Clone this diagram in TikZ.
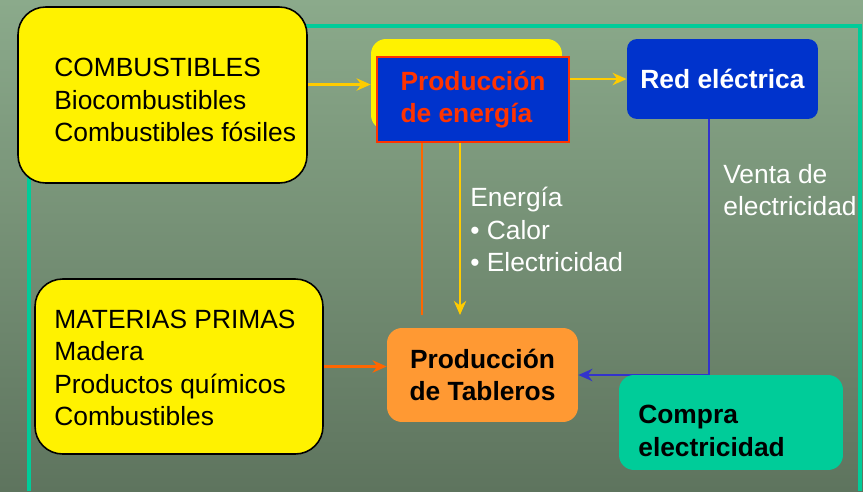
\documentclass[tikz,border=0pt]{standalone}
\usepackage{fontspec}
\setmainfont{Liberation Sans}
\usepackage{tikz}
\usetikzlibrary{positioning,shapes,arrows.meta}

\definecolor{bgtop}{RGB}{139,170,139}
\definecolor{bgbot}{RGB}{94,116,94}
\definecolor{framegreen}{RGB}{0,204,153}
\definecolor{boxgreen}{RGB}{0,204,153}
\definecolor{boxblue}{RGB}{0,51,204}
\definecolor{boxorange}{RGB}{255,153,51}
\definecolor{lineorange}{RGB}{255,102,0}
\definecolor{lineyellow}{RGB}{255,204,0}
\definecolor{lineblue}{RGB}{51,51,204}
\definecolor{redtext}{RGB}{255,51,0}

\begin{document}
\begin{tikzpicture}[x=0.02cm, y=-0.02cm, >={Stealth[length=8pt,width=7pt]},
  every node/.style={font=\fontsize{15}{18.5}\selectfont},
  bold/.style={font=\fontsize{15}{18.5}\selectfont\bfseries},
  srcbox/.style={rectangle, rounded corners=0.55cm, draw=black, line width=0.9pt, fill=yellow},
  plaintext/.style={align=left, inner sep=0pt},
  fuelline/.style={lineyellow, line width=1.6pt},
  matline/.style={lineorange, line width=1.6pt},
  gridline/.style={lineblue, line width=1.6pt}]
% Background and frame
\path[use as bounding box] (0,0) rectangle (863,491);
\shade[top color=bgtop, bottom color=bgbot] (0,0) rectangle (863,491);
\draw[framegreen, line width=1.9pt] (29,491) -- (29,26) -- (860,26) -- (860,491);

% Boxes
\node[srcbox, minimum width=5.78cm, minimum height=3.52cm] (comb) at (162.5,95) {};
\node[plaintext, anchor=west] (combtext) at (54,100) {COMBUSTIBLES\\Biocombustibles\\Combustibles fósiles};

\node[srcbox, minimum width=5.76cm, minimum height=3.5cm] (mat) at (179,366.5) {};
\node[plaintext, anchor=west] (mattext) at (54,368) {MATERIAS PRIMAS\\Madera\\Productos químicos\\Combustibles};

\node[rectangle, rounded corners=0.3cm, fill=yellow, minimum width=3.82cm, minimum height=1.82cm] (enback) at (466.5,84.5) {};
\node[rectangle, draw=redtext, line width=1.3pt, fill=boxblue, text=redtext, bold, align=left, minimum width=3.84cm, minimum height=1.7cm] (en) at (473,99.5) {Producción\\de energía};

\node[rectangle, rounded corners=0.2cm, fill=boxblue, text=white, bold, minimum width=3.82cm, minimum height=1.6cm] (red) at (722.5,79) {Red eléctrica};

\node[rectangle, rounded corners=0.3cm, fill=boxorange, bold, align=center, minimum width=3.82cm, minimum height=1.88cm] (tab) at (482.5,375) {Producción\\de Tableros};

\coordinate (oend) at (422,315);
\coordinate (yend) at (460,315);
\coordinate (venta) at (709,375);

% Arrows
\draw[fuelline, ->] (comb.east |- enback.west) -- (enback.west);
\draw[fuelline, ->] (en.east |- red.west) -- (red.west);
\draw[matline] (en.south -| oend) -- (oend);
\draw[fuelline, ->] (en.south -| yend) -- (yend);
\draw[matline, ->] (mat.east) -- (mat.east -| tab.west);
\draw[gridline, ->] (red.south -| venta) -- (venta) -- (tab.east);

\node[rectangle, rounded corners=0.3cm, fill=boxgreen, minimum width=4.48cm, minimum height=1.9cm] (compra) at (731,422.5) {};
\node[plaintext, bold, anchor=west] (compratext) at (638,431) {Compra\\electricidad};

% Labels
\node[plaintext, text=white, anchor=west] (enlabel) at (470,229.5) {Energía\\• Calor\\• Electricidad};
\node[plaintext, text=white, anchor=west] (ventalabel) at (723,190) {Venta de\\electricidad};
\end{tikzpicture}
\end{document}
